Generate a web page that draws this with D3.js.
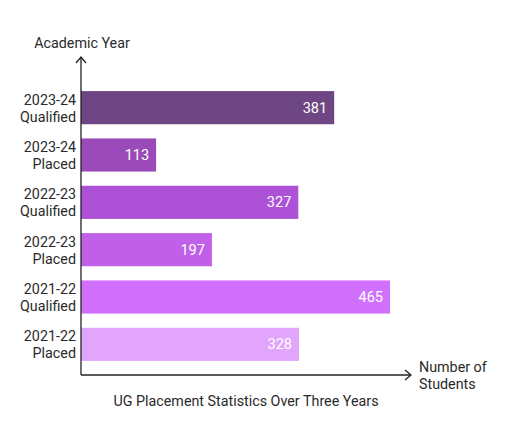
<!DOCTYPE html>
<html>
<head>
<meta charset="utf-8">
<script src="https://cdn.jsdelivr.net/npm/d3@7"></script>
<style>
  body { margin: 0; background: #fff; }
  svg { font-family: Roboto, sans-serif; }
</style>
</head>
<body>
<svg id="chart" width="512" height="444"></svg>
<script>
const years = ['2023-24', '2023-24', '2022-23', '2022-23', '2021-22', '2021-22'];
const kinds = ['Qualified', 'Placed', 'Qualified', 'Placed', 'Qualified', 'Placed'];
const students = [381, 113, 327, 197, 465, 328];
const colors = ['#6e4683', '#9b4ab9', '#ad52d6', '#c060e8', '#d170fc', '#e1a6fc'];

const data = years.map((y, i) => ({ key: y + ' ' + kinds[i], year: y, kind: kinds[i], value: students[i], color: colors[i] }));

const svg = d3.select('#chart');
const x0 = 81, axisY = 375;

// scales
const x = d3.scaleLinear().domain([0, 465]).range([x0, 390]);
const y = d3.scaleBand().domain(data.map(d => d.key)).range([84, 368])
  .paddingInner(0.3).paddingOuter(0.15);

// bars
svg.append('g').selectAll('rect').data(data).join('rect')
  .attr('x', x(0))
  .attr('y', d => y(d.key))
  .attr('width', d => x(d.value) - x(0))
  .attr('height', y.bandwidth())
  .attr('fill', d => d.color);

// value labels
svg.append('g').selectAll('text').data(data).join('text')
  .attr('x', d => x(d.value) - 7)
  .attr('y', d => y(d.key) + y.bandwidth() / 2 + 5)
  .attr('text-anchor', 'end')
  .attr('font-size', 14.5)
  .attr('fill', '#fff')
  .text(d => d.value);

// category labels (two lines)
const cats = svg.append('g').selectAll('text').data(data).join('text')
  .attr('text-anchor', 'end')
  .attr('font-size', 14.3)
  .attr('fill', '#2a2a2a');
cats.append('tspan').attr('x', 76).attr('y', d => y(d.key) + y.bandwidth() / 2 - 3).text(d => d.year);
cats.append('tspan').attr('x', 76).attr('y', d => y(d.key) + y.bandwidth() / 2 + 14).text(d => d.kind);

// axes with arrows
const axis = svg.append('g').attr('stroke', '#222').attr('stroke-width', 1.3).attr('fill', 'none');
axis.append('path').attr('d', `M${x0},${axisY}V57`);
axis.append('path').attr('d', `M${x0 - 5},${63}L${x0},57L${x0 + 5},63`);
axis.append('path').attr('d', `M${x0},${axisY}H411`);
axis.append('path').attr('d', `M405,${axisY - 5}L411,${axisY}L405,${axisY + 5}`);

// axis titles
svg.append('text').attr('x', 82).attr('y', 48).attr('text-anchor', 'middle')
  .attr('font-size', 14.3).attr('fill', '#2a2a2a').text('Academic Year');
const xt = svg.append('text').attr('font-size', 14.3).attr('fill', '#2a2a2a');
xt.append('tspan').attr('x', 419).attr('y', 372).text('Number of');
xt.append('tspan').attr('x', 419).attr('y', 389).text('Students');

// title
svg.append('text').attr('x', 246).attr('y', 406).attr('text-anchor', 'middle')
  .attr('font-size', 14.3).attr('fill', '#2a2a2a').text('UG Placement Statistics Over Three Years');
</script>
</body>
</html>
